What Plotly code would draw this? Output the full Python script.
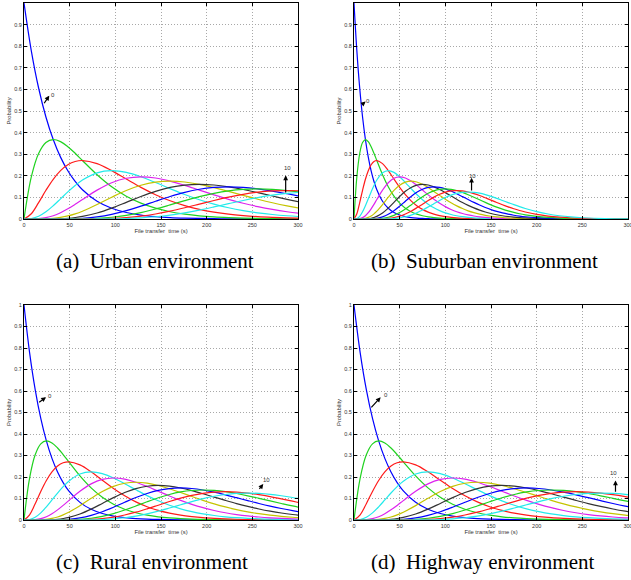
import plotly.graph_objects as go

# Probability of k events (k = 0..10) at the sample points below
prob_k0 = [1, 0.7788, 0.6065, 0.4724, 0.3679, 0.2865, 0.2231, 0.1738,
           0.1353, 0.0821, 0.0498, 0.0302, 0.0183, 0.0111, 0.0067, 0.0041, 0.0025, 0.0015,
           0.0009, 0.0006, 0.0003, 0.0002, 0.0001, 0.0001, 0, 0, 0, 0,
           0, 0, 0, 0, 0, 0, 0, 0, 0, 0, 0, 0, 0, 0]
prob_k1 = [0, 0.1947, 0.3033, 0.3543, 0.3679, 0.3581, 0.3347, 0.3041,
           0.2707, 0.2052, 0.1494, 0.1057, 0.0733, 0.0500, 0.0337, 0.0225, 0.0149, 0.0098,
           0.0064, 0.0041, 0.0027, 0.0017, 0.0011, 0.0007, 0.0005, 0.0003, 0.0002, 0.0001,
           0.0001, 0, 0, 0, 0, 0, 0, 0, 0, 0, 0, 0, 0, 0]
prob_k2 = [0, 0.0243, 0.0758, 0.1329, 0.1839, 0.2238, 0.2510, 0.2661,
           0.2707, 0.2565, 0.2240, 0.1850, 0.1465, 0.1125, 0.0842, 0.0618, 0.0446, 0.0318,
           0.0223, 0.0156, 0.0107, 0.0074, 0.0050, 0.0034, 0.0023, 0.0015, 0.0010, 0.0007,
           0.0004, 0.0003, 0.0002, 0.0001, 0.0001, 0.0001, 0, 0, 0, 0, 0, 0, 0, 0]
prob_k3 = [0, 0.0020, 0.0126, 0.0332, 0.0613, 0.0933, 0.1255, 0.1552,
           0.1804, 0.2138, 0.2240, 0.2158, 0.1954, 0.1687, 0.1404, 0.1133, 0.0892, 0.0688,
           0.0521, 0.0389, 0.0286, 0.0208, 0.0150, 0.0107, 0.0076, 0.0053, 0.0037, 0.0026,
           0.0018, 0.0012, 0.0008, 0.0006, 0.0004, 0.0003, 0.0002, 0.0001, 0, 0, 0, 0, 0, 0]
prob_k4 = [0, 0.0001, 0.0016, 0.0062, 0.0153, 0.0291, 0.0471, 0.0679,
           0.0902, 0.1336, 0.1680, 0.1888, 0.1954, 0.1898, 0.1755, 0.1558, 0.1339, 0.1118,
           0.0912, 0.0729, 0.0573, 0.0443, 0.0337, 0.0254, 0.0189, 0.0139, 0.0102, 0.0074,
           0.0053, 0.0038, 0.0027, 0.0019, 0.0013, 0.0009, 0.0006, 0.0003, 0.0001, 0.0001,
           0, 0, 0, 0]
prob_k5 = [0, 0, 0.0002, 0.0009, 0.0031, 0.0073, 0.0141, 0.0238,
           0.0361, 0.0668, 0.1008, 0.1322, 0.1563, 0.1708, 0.1755, 0.1714, 0.1606, 0.1454,
           0.1277, 0.1094, 0.0916, 0.0752, 0.0607, 0.0483, 0.0378, 0.0293, 0.0224, 0.0170,
           0.0127, 0.0095, 0.0070, 0.0051, 0.0037, 0.0027, 0.0019, 0.0010, 0.0005, 0.0002,
           0.0001, 0.0001, 0, 0]
prob_k6 = [0, 0, 0, 0.0001, 0.0005, 0.0015, 0.0035, 0.0069,
           0.0120, 0.0278, 0.0504, 0.0771, 0.1042, 0.1281, 0.1462, 0.1571, 0.1606, 0.1575,
           0.1490, 0.1367, 0.1221, 0.1066, 0.0911, 0.0764, 0.0631, 0.0513, 0.0411, 0.0325,
           0.0255, 0.0197, 0.0152, 0.0115, 0.0087, 0.0065, 0.0048, 0.0026, 0.0014, 0.0007,
           0.0004, 0.0002, 0, 0]
prob_k7 = [0, 0, 0, 0, 0.0001, 0.0003, 0.0008, 0.0017,
           0.0034, 0.0099, 0.0216, 0.0385, 0.0595, 0.0824, 0.1044, 0.1234, 0.1377, 0.1462,
           0.1490, 0.1465, 0.1396, 0.1294, 0.1171, 0.1037, 0.0901, 0.0769, 0.0646, 0.0535,
           0.0437, 0.0353, 0.0281, 0.0222, 0.0174, 0.0135, 0.0104, 0.0060, 0.0034, 0.0018,
           0.0010, 0.0005, 0.0001, 0]
prob_k8 = [0, 0, 0, 0, 0, 0, 0.0001, 0.0004,
           0.0009, 0.0031, 0.0081, 0.0169, 0.0298, 0.0463, 0.0653, 0.0849, 0.1033, 0.1188,
           0.1304, 0.1373, 0.1396, 0.1375, 0.1318, 0.1232, 0.1126, 0.1009, 0.0888, 0.0769,
           0.0655, 0.0551, 0.0457, 0.0375, 0.0304, 0.0244, 0.0194, 0.0120, 0.0072, 0.0042,
           0.0024, 0.0013, 0.0004, 0.0001]
prob_k9 = [0, 0, 0, 0, 0, 0, 0, 0.0001,
           0.0002, 0.0009, 0.0027, 0.0066, 0.0132, 0.0232, 0.0363, 0.0519, 0.0688, 0.0858,
           0.1014, 0.1144, 0.1241, 0.1299, 0.1318, 0.1300, 0.1251, 0.1177, 0.1085, 0.0982,
           0.0874, 0.0765, 0.0661, 0.0563, 0.0473, 0.0394, 0.0324, 0.0213, 0.0135, 0.0083,
           0.0050, 0.0029, 0.0009, 0.0001]
prob_k10 = [0, 0, 0, 0, 0, 0, 0, 0,
            0, 0.0002, 0.0008, 0.0023, 0.0053, 0.0104, 0.0181, 0.0285, 0.0413, 0.0558,
            0.0710, 0.0858, 0.0993, 0.1104, 0.1186, 0.1235, 0.1251, 0.1236, 0.1194, 0.1129,
            0.1048, 0.0956, 0.0859, 0.0760, 0.0663, 0.0571, 0.0486, 0.0341, 0.0230, 0.0150,
            0.0095, 0.0058, 0.0020, 0.0004]

# File transfer time (s) of those sample points in each environment
time_urban = [0, 8, 16, 24, 32, 40, 48, 56,
              64, 80, 96, 112, 128, 144, 160, 176, 192, 208,
              224, 240, 256, 272, 288, 304, 320, 336, 352, 368,
              384, 400, 416, 432, 448, 464, 480, 512, 544, 576, 608, 640, 704, 800]
time_suburban = [0, 3.125, 6.25, 9.375, 12.5, 15.625, 18.75, 21.875,
                 25, 31.25, 37.5, 43.75, 50, 56.25, 62.5, 68.75, 75, 81.25,
                 87.5, 93.75, 100, 106.25, 112.5, 118.75, 125, 131.25, 137.5, 143.75,
                 150, 156.25, 162.5, 168.75, 175, 181.25, 187.5, 200, 212.5, 225, 237.5,
                 250, 275, 312.5]
time_rural = [0, 6.125, 12.25, 18.375, 24.5, 30.625, 36.75, 42.875,
              49, 61.25, 73.5, 85.75, 98, 110.25, 122.5, 134.75, 147, 159.25,
              171.5, 183.75, 196, 208.25, 220.5, 232.75, 245, 257.25, 269.5, 281.75,
              294, 306.25, 318.5, 330.75, 343, 355.25, 367.5, 392, 416.5, 441, 465.5,
              490, 539, 612.5]
time_highway = [0, 6.75, 13.5, 20.25, 27, 33.75, 40.5, 47.25,
                54, 67.5, 81, 94.5, 108, 121.5, 135, 148.5, 162, 175.5,
                189, 202.5, 216, 229.5, 243, 256.5, 270, 283.5, 297, 310.5,
                324, 337.5, 351, 364.5, 378, 391.5, 405, 432, 459, 486, 513,
                540, 594, 675]

captions = ["(a)  Urban environment", "(b)  Suburban environment",
            "(c)  Rural environment", "(d)  Highway environment"]
x_ticks = [0, 50, 100, 150, 200, 250, 300]
y_ticks = [0, 0.1, 0.2, 0.3, 0.4, 0.5, 0.6, 0.7, 0.8, 0.9, 1]
y_tick_text = ["0", "0.1", "0.2", "0.3", "0.4", "0.5", "0.6", "0.7", "0.8", "0.9", "1"]

curves = [prob_k0, prob_k1, prob_k2, prob_k3, prob_k4, prob_k5,
          prob_k6, prob_k7, prob_k8, prob_k9, prob_k10]
times = [time_urban, time_suburban, time_rural, time_highway]
palette = ["#0000ff", "#1fd21f", "#ff1a1a", "#22eaea", "#dd22ee", "#c4c400", "#333333"]

W, H = 631, 580
# pixel boxes of the four plot areas: (left, right, top, bottom)
boxes = [(24, 298, 3, 219), (354, 628, 3, 219), (24, 298, 305, 520), (354, 628, 305, 520)]
caption_pos = [(155, 261.5), (484.5, 261.5), (152, 562), (483, 562)]

fig = go.Figure()
suffixes = ["", "2", "3", "4"]
for p in range(4):
    s = suffixes[p]
    for k, vals in enumerate(curves):
        fig.add_trace(go.Scatter(
            x=times[p], y=vals, mode="lines",
            line=dict(color=palette[k % 7], width=1.2, shape="spline", smoothing=1.0),
            xaxis="x" + s, yaxis="y" + s, showlegend=False, hoverinfo="skip"))

small_font = dict(size=5.5, color="#333333", family="Liberation Sans")
axis_common = dict(showline=True, linecolor="black", linewidth=1, mirror="allticks",
                   ticks="inside", ticklen=3, tickcolor="black", showgrid=True,
                   gridcolor="#a8a8a8", griddash="1px,2px", gridwidth=1, zeroline=False,
                   automargin=False, tickfont=small_font)
layout = {}
for p in range(4):
    s = suffixes[p]
    l, r, t, b = boxes[p]
    layout["xaxis" + s] = dict(axis_common, domain=[l / W, r / W], range=[0, 300],
                               tickvals=x_ticks, anchor="y" + s, ticklabeloverflow="allow",
                               title=dict(text="File transfer  time (s)", standoff=1,
                                          font=dict(small_font, size=5.8)))
    layout["yaxis" + s] = dict(axis_common, domain=[1 - b / H, 1 - t / H], range=[0, 1],
                               tickvals=y_ticks, ticktext=y_tick_text, anchor="x" + s,
                               title=dict(text="Probability", standoff=2,
                                          font=dict(small_font, size=5.8)))

annotations = []
for p, (cx, cy) in enumerate(caption_pos):
    annotations.append(dict(text=captions[p], x=cx / W, y=1 - cy / H, xref="paper",
                            yref="paper", showarrow=False, xanchor="center", yanchor="middle",
                            font=dict(size=21, family="Liberation Serif", color="black")))

# arrows: (panel, tail x, tail y, head x, head y, label, label x, label y)
arrows = [(0, 21, 0.529, 27.7, 0.571, "0", 31.5, 0.575),
          (0, 286.5, 0.116, 286.5, 0.202, "10", 288, 0.238),
          (1, 7.3, 0.525, 12.8, 0.544, "0", 15.7, 0.548),
          (1, 128.7, 0.125, 128.7, 0.191, "10", 130, 0.2),
          (2, 15, 0.543, 24.1, 0.571, "0", 28.5, 0.578),
          (2, 256.5, 0.138, 262, 0.168, "10", 266, 0.185),
          (3, 17.5, 0.517, 29.2, 0.571, "0", 34.7, 0.582),
          (3, 286.3, 0.125, 286.3, 0.184, "10", 284, 0.218)]
for p, tx, ty, hx, hy, lab, lx, ly in arrows:
    s = suffixes[p]
    annotations.append(dict(x=hx, y=hy, ax=tx, ay=ty, xref="x" + s, yref="y" + s,
                            axref="x" + s, ayref="y" + s, text="", showarrow=True,
                            arrowhead=2, arrowsize=0.8, arrowwidth=1.2, arrowcolor="black",
                            standoff=0, startstandoff=0))
    annotations.append(dict(x=lx, y=ly, xref="x" + s, yref="y" + s, text=lab,
                            showarrow=False, font=dict(small_font, size=6)))

fig.update_layout(width=W, height=H, margin=dict(l=0, r=0, t=0, b=0, autoexpand=False),
                  paper_bgcolor="white", plot_bgcolor="white",
                  annotations=annotations, **layout)
# remove the browser's default 8px page margin so the figure fills the window
fig.write_html("out.html", config={"displayModeBar": False},
               post_script="document.body.style.margin='0';"
                           "document.body.style.overflow='hidden';")
